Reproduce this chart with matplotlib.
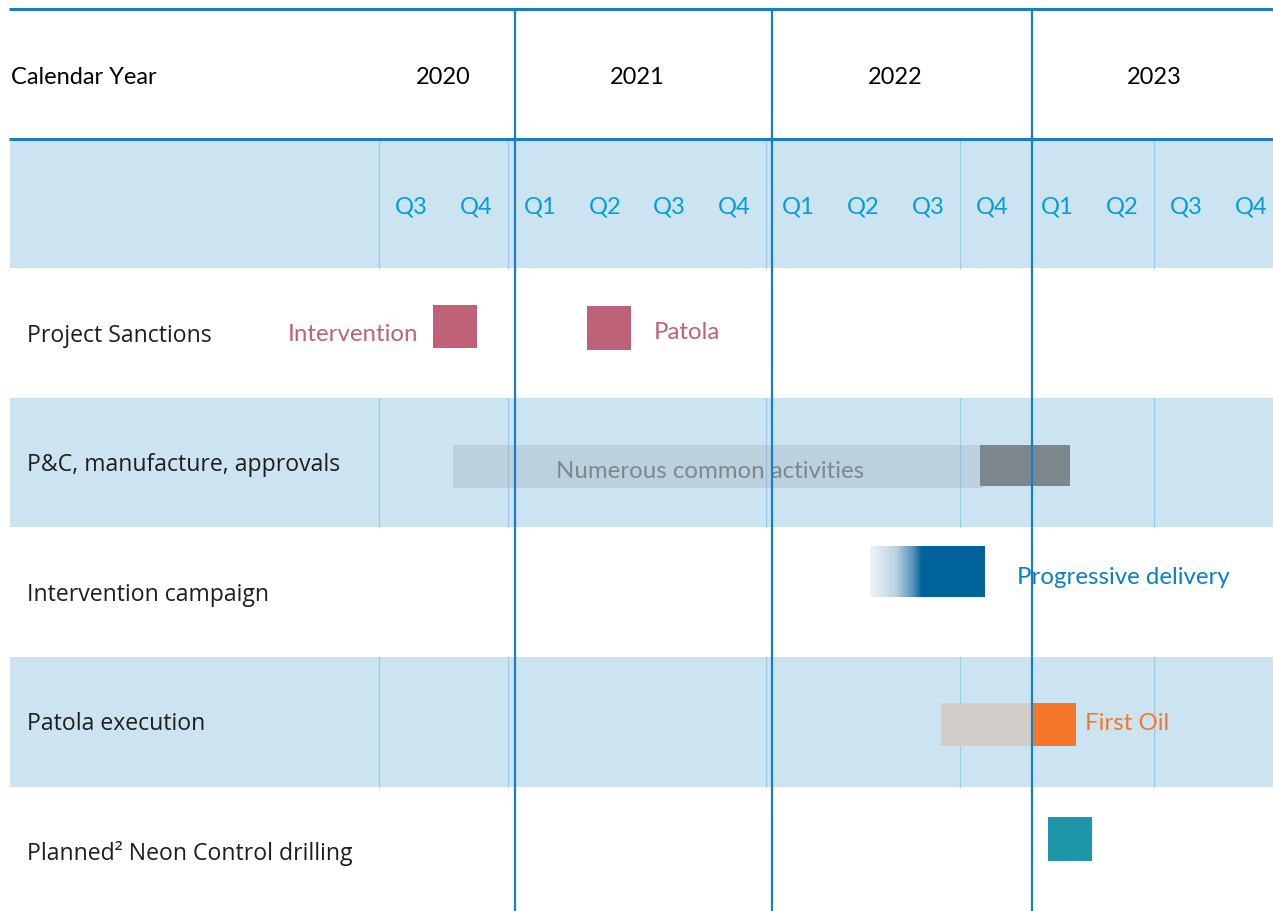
import matplotlib
matplotlib.use("Agg")
import matplotlib.pyplot as plt
import numpy as np
from matplotlib.colors import LinearSegmentedColormap

# ---------------- data ----------------
years = [2020, 2021, 2022, 2023]
year_label_x = [2020.75, 2021.5, 2022.5, 2023.5]
quarter_labels = ["Q3", "Q4", "Q1", "Q2", "Q3", "Q4", "Q1", "Q2", "Q3", "Q4", "Q1", "Q2", "Q3", "Q4"]
quarter_centers = [2020.625, 2020.875, 2021.125, 2021.375, 2021.625, 2021.875,
                   2022.125, 2022.375, 2022.625, 2022.875, 2023.125, 2023.375, 2023.625, 2023.875]
row_labels = ["Project Sanctions", "P&C, manufacture, approvals", "Intervention campaign",
              "Patola execution", "Planned\u00b2 Neon Control drilling"]

# sanction milestones (start, end in fractional years)
sanction_names = ["Intervention", "Patola"]
sanction_start = [2020.71, 2021.306]
sanction_end = [2020.88, 2021.476]

# P&C bars
pc_common_start, pc_common_end = 2020.787, 2022.838
pc_specific_start, pc_specific_end = 2022.827, 2023.175
pc_text = "Numerous common activities"

# intervention campaign (gradient ramp then solid)
int_start, int_solid, int_end = 2022.401, 2022.602, 2022.846
int_text = "Progressive delivery"

# Patola execution
pat_pre_start, pat_pre_end = 2022.676, 2023.028
pat_first_start, pat_first_end = 2023.028, 2023.198
pat_text = "First Oil"

# Neon drilling
neon_start, neon_end = 2023.09, 2023.26

# grid lines
year_dividers = [2021.027, 2022.022, 2023.026]
thin_dividers = [2020.5, 2021.0, 2022.0, 2022.75, 2023.5]

# ---------------- layout / style ----------------
W, H = 1273, 911
PX_PER_YEAR = 258.4
X0 = 2021 - 508 / PX_PER_YEAR
X1 = 2021 + (W - 508) / PX_PER_YEAR
ROW_PX = 129.6
TOP_PX = 9
Y_TOP = -TOP_PX / ROW_PX
Y_BOT = (H - TOP_PX) / ROW_PX
LEFT_X = 2021 + (10 - 508) / PX_PER_YEAR

BAND = "#CCE4F1"
DARK_LINE = "#1B7EC5"
THIN_LINE = "#9CCBE8"
QCOL = "#009FDC"
ROSE = "#C06277"
ORANGE = "#F5782A"
HDR_FS = 17
ANN_FS = 17.3
ROW_FS = 16.6

fig = plt.figure(figsize=(W / 100, H / 100), dpi=100)
ax = fig.add_axes([0, 0, 1, 1])
ax.set_axis_off()

# background bands: quarter row (1) and rows 3,5
for r in [1, 3, 5]:
    ax.barh(r + 0.5, X1 - LEFT_X, left=LEFT_X, height=1.0, color=BAND, zorder=0)
    for tx in thin_dividers:
        ax.plot([tx, tx], [r, r + 1], color=THIN_LINE, lw=0.9, zorder=1)

# horizontal header lines
for yl in [0.0, 1.0]:
    ax.plot([LEFT_X - 0.004, X1], [yl, yl], color=DARK_LINE, lw=2.2, zorder=6, solid_capstyle="butt")

# year dividers
for xd in year_dividers:
    ax.plot([xd, xd], [0.0, Y_BOT + 0.1], color=DARK_LINE, lw=1.6, zorder=6)

# header text
ax.text(LEFT_X + 0.002, 0.525, "Calendar Year", fontsize=HDR_FS, family="Lato", color="black",
        va="center", ha="left")
for yx, y in zip(year_label_x, years):
    ax.text(yx, 0.525, str(y), fontsize=HDR_FS, family="Lato", color="black", va="center", ha="center")
for qx, ql in zip(quarter_centers, quarter_labels):
    ax.text(qx, 1.525, ql, fontsize=HDR_FS, family="Lato", color=QCOL, va="center", ha="center")

# row labels
label_x = 2021 + (27 - 508) / PX_PER_YEAR
for i, lab in enumerate(row_labels):
    ax.text(label_x, 2 + i + 0.52, lab, fontsize=ROW_FS, family="Open Sans", color="#1E1E1E",
            va="center", ha="left")

# row 2: sanctions
sq_h = 0.335
sanc_y = [2 + 0.45, 2 + 0.46]
ax.barh(sanc_y, np.array(sanction_end) - np.array(sanction_start), left=sanction_start,
        height=sq_h, color=ROSE, zorder=3)
ax.text(sanction_start[0] - 0.058, 2 + 0.515, sanction_names[0], fontsize=ANN_FS, family="Lato",
        color=ROSE, va="center", ha="right")
ax.text(sanction_end[1] + 0.088, 2 + 0.495, sanction_names[1], fontsize=ANN_FS, family="Lato",
        color=ROSE, va="center", ha="left")

# row 3: P&C
pc_y = 3 + 0.53
ax.barh(pc_y, pc_common_end - pc_common_start, left=pc_common_start, height=0.325,
        color="#8FA3AE", alpha=0.28, zorder=3, linewidth=0)
ax.barh(pc_y - 0.008, pc_specific_end - pc_specific_start, left=pc_specific_start, height=0.31,
        color="#7B868D", zorder=3)
ax.text((pc_common_start + pc_common_end) / 2 - 0.03, pc_y + 0.035, pc_text, fontsize=ANN_FS,
        family="Lato", color="#7D898F", va="center", ha="center", zorder=4)

# row 4: intervention campaign gradient
iy0, iy1 = 4 + 0.145, 4 + 0.538
frac = (int_solid - int_start) / (int_end - int_start)
cmap = LinearSegmentedColormap.from_list(
    "ramp", [(0.0, "#EEF4F8"), (frac * 0.5, "#B9D3E3"), (frac * 0.82, "#5B93BB"),
             (frac, "#00629B"), (1.0, "#00629B")])
grad = np.linspace(0, 1, 256).reshape(1, -1)
ax.imshow(grad, cmap=cmap, extent=[int_start, int_end, iy1, iy0], aspect="auto",
          interpolation="bilinear", zorder=3)
ax.text(2021 + (1017 - 508) / PX_PER_YEAR, 4 + 0.385, int_text, fontsize=ANN_FS, family="Lato",
        color="#0A7EC6", va="center", ha="left", zorder=4)

# row 5: Patola execution
py = 5 + 0.52
ax.barh(py, pat_pre_end - pat_pre_start, left=pat_pre_start, height=0.337, color="#D3CECA", zorder=3)
ax.barh(py, pat_first_end - pat_first_start, left=pat_first_start, height=0.337, color=ORANGE, zorder=3)
ax.text(pat_first_end + 0.035, py - 0.01, pat_text, fontsize=ANN_FS, family="Lato", color=ORANGE,
        va="center", ha="left", zorder=4)

# row 6: Neon
ax.barh(6 + 0.405, neon_end - neon_start, left=neon_start, height=0.337, color="#1E96AA", zorder=3)

ax.set_xlim(X0, X1)
ax.set_ylim(Y_BOT, Y_TOP)

fig.savefig("out.png", dpi=100)
